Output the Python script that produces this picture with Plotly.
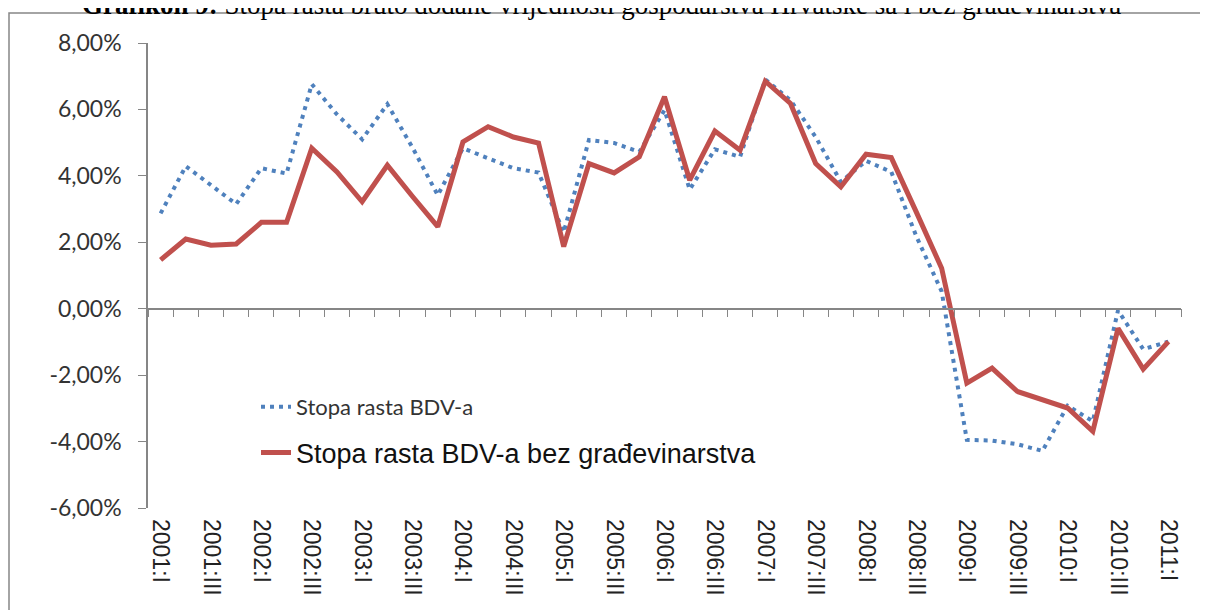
import plotly.graph_objects as go

# ---- data ----
quarters = ["I", "II", "III", "IV"]
categories = [f"{y}:{q}" for y in range(2001, 2011) for q in quarters] + ["2011:I"]

bdv = [2.87, 4.29, 3.72, 3.15, 4.23, 4.07, 6.76, 5.85, 5.10, 6.16,
       4.85, 3.42, 4.83, 4.52, 4.23, 4.10, 2.30, 5.08, 4.99, 4.72,
       5.98, 3.59, 4.80, 4.57, 6.90, 6.28, 5.17, 3.82, 4.45, 4.12,
       2.17, 0.52, -3.95, -3.97, -4.08, -4.28, -2.92, -3.39, -0.05, -1.22,
       -0.99]

bdv_bez_gradj = [1.47, 2.10, 1.91, 1.95, 2.60, 2.60, 4.83, 4.12, 3.22, 4.32,
                 3.38, 2.47, 5.02, 5.48, 5.17, 4.99, 1.87, 4.37, 4.09, 4.57,
                 6.38, 3.87, 5.35, 4.77, 6.85, 6.18, 4.37, 3.67, 4.65, 4.55,
                 2.90, 1.22, -2.24, -1.79, -2.49, -2.74, -2.99, -3.69, -0.59, -1.82,
                 -0.99]

series_names = ["Stopa rasta BDV-a", "Stopa rasta BDV-a bez građevinarstva"]

y_tickvals = [-6, -4, -2, 0, 2, 4, 6, 8]
y_ticktext = ["-6,00%", "-4,00%", "-2,00%", "0,00%", "2,00%", "4,00%", "6,00%", "8,00%"]

title_bold = "Grafikon 9:"
title_rest = " Stopa rasta bruto dodane vrijednosti gospodarstva Hrvatske sa i bez građevinarstva"

# ---- figure ----
n = len(categories)
xs = list(range(n))
label_idx = [i for i in xs if i % 2 == 0]
AXIS = "#868686"

W, H = 1200, 602
ML, MR, MT, MB = 140, 27, 35, 102
PW, PH = W - ML - MR, H - MT - MB


def px_x(p):
    return (p - ML) / PW


def px_y(p):
    return (H - MB - p) / PH


fig = go.Figure()
fig.add_trace(go.Scatter(
    x=xs, y=bdv, name=series_names[0], mode="lines",
    line=dict(color="#4F81BD", width=4, dash="4px,5px"),
    legend="legend", xaxis="x", yaxis="y",
    customdata=categories, hovertemplate="%{customdata}: %{y:.2f}%<extra></extra>"))
fig.add_trace(go.Scatter(
    x=xs, y=bdv_bez_gradj, name=series_names[1], mode="lines",
    line=dict(color="#C0504D", width=5),
    legend="legend2", xaxis="x2", yaxis="y",
    customdata=categories, hovertemplate="%{customdata}: %{y:.2f}%<extra></extra>"))

y_min, y_max = y_tickvals[0], y_tickvals[-1]
zero_pos = (0 - y_min) / (y_max - y_min)

fig.update_layout(
    width=W, height=H,
    margin=dict(l=ML, r=MR, t=MT, b=MB),
    paper_bgcolor="white", plot_bgcolor="white",
    showlegend=True,
    xaxis=dict(
        range=[-0.5, n - 0.5], anchor="free", position=zero_pos,
        showline=True, linecolor=AXIS, linewidth=1.5,
        tickmode="array", tickvals=[i - 0.5 for i in range(n + 1)],
        ticks="outside", ticklen=8, tickwidth=1.2, tickcolor=AXIS,
        showticklabels=False, showgrid=False, zeroline=False,
    ),
    xaxis2=dict(
        overlaying="x", matches="x", anchor="y", side="bottom",
        showline=False, ticks="", showgrid=False, zeroline=False,
        tickmode="array", tickvals=label_idx,
        ticktext=[categories[i] for i in label_idx],
        tickangle=90, ticklabelstandoff=10,
        tickfont=dict(family="Liberation Sans, Arial", size=23, color="#222222"),
    ),
    yaxis=dict(
        range=[y_min, y_max], showline=True, linecolor=AXIS, linewidth=1.5,
        tickmode="array", tickvals=y_tickvals, ticktext=y_ticktext,
        ticks="outside", ticklen=8, tickwidth=1.2, tickcolor=AXIS,
        ticklabelstandoff=12,
        tickfont=dict(family="Lato, Open Sans, sans-serif", size=23, color="#333333"),
        showgrid=False, zeroline=False,
    ),
    legend=dict(
        x=px_x(248), y=px_y(399), xanchor="left", yanchor="middle",
        bgcolor="rgba(0,0,0,0)",
        font=dict(family="Lato, Open Sans, sans-serif", size=22, color="#333333"),
    ),
    legend2=dict(
        x=px_x(248), y=px_y(445), xanchor="left", yanchor="middle",
        bgcolor="rgba(0,0,0,0)",
        font=dict(family="Liberation Sans, Arial", size=27, color="#111111"),
    ),
    shapes=[dict(
        type="rect", xref="paper", yref="paper",
        x0=px_x(1), x1=px_x(1196),
        y0=px_y(640), y1=px_y(5),
        line=dict(color=AXIS, width=1.5), fillcolor="rgba(0,0,0,0)", layer="below",
    )],
    annotations=[dict(
        xref="paper", yref="paper", x=px_x(593), y=px_y(-3),
        xanchor="center", yanchor="middle", showarrow=False,
        text=f"<b>{title_bold}</b>{title_rest}",
        font=dict(family="Liberation Serif, Times New Roman, serif", size=27, color="black"),
    )],
)

fig.write_html("out.html")
